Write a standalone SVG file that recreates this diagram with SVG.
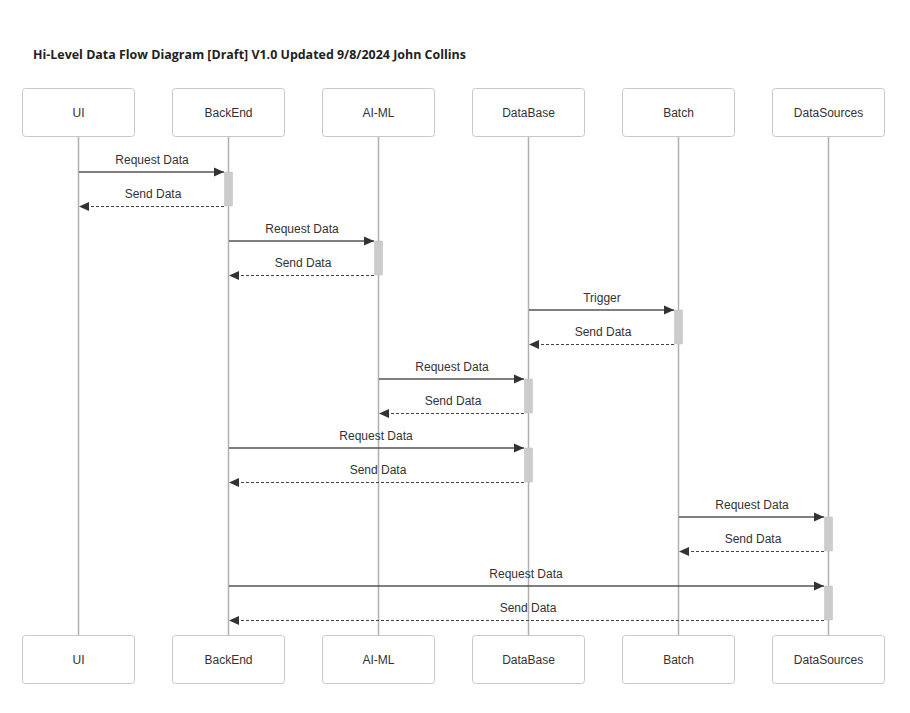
<svg xmlns="http://www.w3.org/2000/svg" width="910" height="713" viewBox="0 0 910 713">
<defs>
<marker id="ah" viewBox="0 0 10 10" refX="10" refY="5" markerWidth="10" markerHeight="10" markerUnits="userSpaceOnUse" orient="auto"><path d="M0,0.5 L10,5 L0,9.5 z" fill="#333"/></marker>
<style>
.box{fill:#fff;stroke:#c8c8c8;stroke-width:1}
.lbl{font-family:"Liberation Sans",Arial,sans-serif;font-size:12px;fill:#333;text-anchor:middle}
.life{stroke:#b0b0b0;stroke-width:1.5}
.req{stroke:#555;stroke-width:1.5;fill:none;marker-end:url(#ah)}
.ret{stroke:#444;stroke-width:1;stroke-dasharray:3,2;fill:none;marker-end:url(#ah)}
.act{fill:#cccccc;stroke:#c0c0c0;stroke-width:0.5}
.title{font-family:"Open Sans","Noto Sans",sans-serif;font-weight:bold;font-size:12.45px;fill:#222}
</style>
</defs>
<rect width="910" height="713" fill="#fff"/>
<text class="title" x="33" y="59">Hi-Level Data Flow Diagram [Draft] V1.0 Updated 9/8/2024 John Collins</text>
<g id="lifelines">
<line class="life" x1="78.5" y1="137" x2="78.5" y2="635"/>
<line class="life" x1="228.5" y1="137" x2="228.5" y2="635"/>
<line class="life" x1="378.5" y1="137" x2="378.5" y2="635"/>
<line class="life" x1="528.5" y1="137" x2="528.5" y2="635"/>
<line class="life" x1="678.5" y1="137" x2="678.5" y2="635"/>
<line class="life" x1="828.5" y1="137" x2="828.5" y2="635"/>
</g>
<g id="node-ui"><rect class="box" x="22.5" y="88.5" width="112" height="48" rx="3"/><text class="lbl" x="78.5" y="117">UI</text><rect class="box" x="22.5" y="635.5" width="112" height="48" rx="3"/><text class="lbl" x="78.5" y="664">UI</text></g>
<g id="node-backend"><rect class="box" x="172.5" y="88.5" width="112" height="48" rx="3"/><text class="lbl" x="228.5" y="117">BackEnd</text><rect class="box" x="172.5" y="635.5" width="112" height="48" rx="3"/><text class="lbl" x="228.5" y="664">BackEnd</text></g>
<g id="node-aiml"><rect class="box" x="322.5" y="88.5" width="112" height="48" rx="3"/><text class="lbl" x="378.5" y="117">AI-ML</text><rect class="box" x="322.5" y="635.5" width="112" height="48" rx="3"/><text class="lbl" x="378.5" y="664">AI-ML</text></g>
<g id="node-database"><rect class="box" x="472.5" y="88.5" width="112" height="48" rx="3"/><text class="lbl" x="528.5" y="117">DataBase</text><rect class="box" x="472.5" y="635.5" width="112" height="48" rx="3"/><text class="lbl" x="528.5" y="664">DataBase</text></g>
<g id="node-batch"><rect class="box" x="622.5" y="88.5" width="112" height="48" rx="3"/><text class="lbl" x="678.5" y="117">Batch</text><rect class="box" x="622.5" y="635.5" width="112" height="48" rx="3"/><text class="lbl" x="678.5" y="664">Batch</text></g>
<g id="node-datasources"><rect class="box" x="772.5" y="88.5" width="112" height="48" rx="3"/><text class="lbl" x="828.5" y="117">DataSources</text><rect class="box" x="772.5" y="635.5" width="112" height="48" rx="3"/><text class="lbl" x="828.5" y="664">DataSources</text></g>
<g id="activations">
<rect class="act" x="224.5" y="172" width="8" height="34"/>
<rect class="act" x="374.5" y="241" width="8" height="34"/>
<rect class="act" x="674.5" y="310" width="8" height="34"/>
<rect class="act" x="524.5" y="379" width="8" height="34"/>
<rect class="act" x="524.5" y="448" width="8" height="34"/>
<rect class="act" x="824.5" y="517" width="8" height="34"/>
<rect class="act" x="824.5" y="586" width="8" height="34"/>
</g>
<g id="connectors">
<line class="req" x1="79" y1="172" x2="224" y2="172"/><text class="lbl" x="152" y="164">Request Data</text>
<line class="ret" x1="224" y1="206.5" x2="79" y2="206.5"/><text class="lbl" x="153" y="198">Send Data</text>
<line class="req" x1="229" y1="241" x2="374" y2="241"/><text class="lbl" x="302" y="233">Request Data</text>
<line class="ret" x1="374" y1="275.5" x2="229" y2="275.5"/><text class="lbl" x="303" y="267">Send Data</text>
<line class="req" x1="529" y1="310" x2="674" y2="310"/><text class="lbl" x="602" y="302">Trigger</text>
<line class="ret" x1="674" y1="344.5" x2="529" y2="344.5"/><text class="lbl" x="603" y="336">Send Data</text>
<line class="req" x1="379" y1="379" x2="524" y2="379"/><text class="lbl" x="452" y="371">Request Data</text>
<line class="ret" x1="524" y1="413.5" x2="379" y2="413.5"/><text class="lbl" x="453" y="405">Send Data</text>
<line class="req" x1="229" y1="448" x2="524" y2="448"/><text class="lbl" x="376" y="440">Request Data</text>
<line class="ret" x1="524" y1="482.5" x2="229" y2="482.5"/><text class="lbl" x="378" y="474">Send Data</text>
<line class="req" x1="679" y1="517" x2="824" y2="517"/><text class="lbl" x="752" y="509">Request Data</text>
<line class="ret" x1="824" y1="551.5" x2="679" y2="551.5"/><text class="lbl" x="753" y="543">Send Data</text>
<line class="req" x1="229" y1="586" x2="824" y2="586"/><text class="lbl" x="526" y="578">Request Data</text>
<line class="ret" x1="824" y1="620.5" x2="229" y2="620.5"/><text class="lbl" x="528" y="612">Send Data</text>
</g>
</svg>
